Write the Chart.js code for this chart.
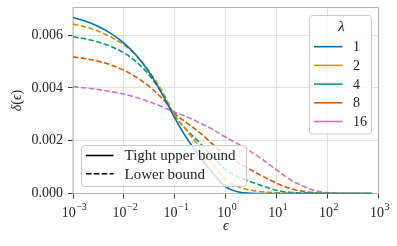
<!DOCTYPE html>
<html>
<head>
<meta charset="utf-8">
<script src="https://cdn.jsdelivr.net/npm/chart.js@4.4.0/dist/chart.umd.min.js"></script>
<style>
  html, body { margin: 0; padding: 0; background: #fff; }
  #wrap { width: 397px; height: 246px; }
</style>
</head>
<body>
<div id="wrap"><canvas id="chart" width="397" height="246"></canvas></div>
<script>
// epsilon grid (x) and delta(epsilon) for each lambda
const epsilon = [0.001, 0.00178, 0.00316, 0.00562, 0.01, 0.0178, 0.0316, 0.0562, 0.1, 0.178, 0.316, 0.562,
                 1, 1.78, 3.16, 5.62, 10, 17.8, 31.6, 56.2, 100, 316, 740];
const lambdas = ['1', '2', '4', '8', '16'];
const deltaL1  = [0.00667, 0.00653, 0.00633, 0.00606, 0.00570, 0.00522, 0.00458, 0.00378, 0.00286, 0.00205, 0.00138, 0.00076,
                  0.00025, 0.00006, 0.00001, 0, 0, 0, 0, 0, 0, 0, 0];
const deltaL2  = [0.00642, 0.00631, 0.00615, 0.00593, 0.00563, 0.00521, 0.00463, 0.00388, 0.00298, 0.00234, 0.00173, 0.00110,
                  0.00053, 0.00025, 0.00012, 0.00006, 0.00003, 0.00001, 0, 0, 0, 0, 0];
const deltaL4  = [0.00594, 0.00586, 0.00574, 0.00557, 0.00533, 0.00498, 0.00448, 0.00380, 0.00294, 0.00238, 0.00190, 0.00138,
                  0.00090, 0.00062, 0.00044, 0.00027, 0.00012, 0.00005, 0.00002, 0.00001, 0, 0, 0];
const deltaL8  = [0.00518, 0.00511, 0.00501, 0.00487, 0.00467, 0.00440, 0.00405, 0.00361, 0.00303, 0.00266, 0.00229, 0.00186,
                  0.00146, 0.00116, 0.00089, 0.00063, 0.00039, 0.00020, 0.00009, 0.00003, 0.00001, 0, 0];
const deltaL16 = [0.00405, 0.00400, 0.00394, 0.00386, 0.00377, 0.00364, 0.00348, 0.00329, 0.00308, 0.00289, 0.00267, 0.00242,
                  0.00213, 0.00187, 0.00158, 0.00125, 0.00089, 0.00055, 0.00029, 0.00011, 0.00003, 0, 0];
const xTicks = [-3, -2, -1, 0, 1, 2, 3];
const yTicks = [0, 0.002, 0.004, 0.006];

const colors = ['#0173B2', '#DE8F05', '#029E73', '#D55E00', '#CC78BC'];
const series = [deltaL1, deltaL2, deltaL4, deltaL8, deltaL16];
const SERIF = "'Liberation Serif', 'DejaVu Serif', serif";

const datasets = series.map((vals, i) => ({
  label: lambdas[i],
  data: epsilon.map((e, j) => ({x: e, y: vals[j]})),
  borderColor: colors[i],
  borderWidth: 1.6,
  borderDash: i === 0 ? [] : [5.5, 2.4],
  pointRadius: 0,
  cubicInterpolationMode: 'monotone',
  fill: false
}));

function roundRect(ctx, x, y, w, h, r) {
  ctx.beginPath();
  ctx.moveTo(x + r, y);
  ctx.arcTo(x + w, y, x + w, y + h, r);
  ctx.arcTo(x + w, y + h, x, y + h, r);
  ctx.arcTo(x, y + h, x, y, r);
  ctx.arcTo(x, y, x + w, y, r);
  ctx.closePath();
}

const decorations = {
  id: 'decorations',
  beforeDatasetsDraw(chart) {
    const {ctx, chartArea: a} = chart;
    ctx.save();
    ctx.strokeStyle = '#b8b8b8';
    ctx.lineWidth = 1;
    ctx.strokeRect(a.left, a.top, a.right - a.left, a.bottom - a.top);
    ctx.restore();
  },
  afterDraw(chart) {
    const {ctx, chartArea: a} = chart;
    const xs = chart.scales.x;
    ctx.save();
    ctx.fillStyle = '#262626';
    // x tick labels as 10^k
    xTicks.forEach(k => {
      const px = xs.getPixelForValue(Math.pow(10, k));
      const base = '10';
      const exp = k < 0 ? '\u2212' + Math.abs(k) : String(k);
      ctx.font = '14px ' + SERIF;
      const wb = ctx.measureText(base).width;
      ctx.font = '10px ' + SERIF;
      const we = ctx.measureText(exp).width;
      const x0 = px - (wb + we) / 2 + 1;
      ctx.textBaseline = 'alphabetic';
      ctx.textAlign = 'left';
      ctx.font = '14px ' + SERIF;
      ctx.fillText(base, x0, 217);
      ctx.font = '10px ' + SERIF;
      ctx.fillText(exp, x0 + wb + 0.5, 210);
    });
    // axis titles
    ctx.font = 'italic 14px ' + SERIF;
    ctx.textAlign = 'center';
    ctx.textBaseline = 'middle';
    ctx.fillText('\u03F5', (a.left + a.right) / 2, 226);
    ctx.save();
    ctx.translate(17, (a.top + a.bottom) / 2);
    ctx.rotate(-Math.PI / 2);
    const parts = [['\u03B4', true], ['(', false], ['\u03F5', true], [')', false]];
    let total = 0;
    parts.forEach(p => { ctx.font = (p[1] ? 'italic ' : '') + '14px ' + SERIF; p.push(ctx.measureText(p[0]).width); total += p[2]; });
    let cx = -total / 2;
    ctx.textAlign = 'left';
    parts.forEach(p => { ctx.font = (p[1] ? 'italic ' : '') + '14px ' + SERIF; ctx.fillText(p[0], cx, 0); cx += p[2]; });
    ctx.restore();

    // lambda legend (top right)
    roundRect(ctx, 309.5, 15.5, 62, 118.5, 3);
    ctx.fillStyle = 'rgba(255,255,255,0.8)';
    ctx.fill();
    ctx.strokeStyle = '#cccccc';
    ctx.lineWidth = 1;
    ctx.stroke();
    ctx.fillStyle = '#262626';
    ctx.font = 'italic 15px ' + SERIF;
    ctx.textAlign = 'center';
    ctx.textBaseline = 'middle';
    ctx.fillText('\u03BB', 341.5, 27);
    ctx.font = '14px ' + SERIF;
    ctx.textAlign = 'left';
    lambdas.forEach((lab, i) => {
      const y = 46.7 + i * 18.7;
      ctx.strokeStyle = colors[i];
      ctx.lineWidth = 1.6;
      ctx.setLineDash([]);
      ctx.beginPath();
      ctx.moveTo(314, y);
      ctx.lineTo(342.5, y);
      ctx.stroke();
      ctx.fillStyle = '#262626';
      ctx.fillText(lab, 353, y + 1);
    });

    // bound-type legend (bottom left)
    roundRect(ctx, 81.5, 145.5, 165, 41, 3);
    ctx.fillStyle = 'rgba(255,255,255,0.8)';
    ctx.fill();
    ctx.strokeStyle = '#cccccc';
    ctx.lineWidth = 1;
    ctx.stroke();
    const kinds = [['Tight upper bound', []], ['Lower bound', [5.5, 2.4]]];
    kinds.forEach((k, i) => {
      const y = 155.5 + i * 18.3;
      ctx.strokeStyle = '#000';
      ctx.lineWidth = 1.6;
      ctx.setLineDash(k[1]);
      ctx.beginPath();
      ctx.moveTo(86, y);
      ctx.lineTo(113.5, y);
      ctx.stroke();
      ctx.setLineDash([]);
      ctx.fillStyle = '#262626';
      ctx.font = '15px ' + SERIF;
      ctx.fillText(k[0], 124.5, y + 1);
    });
    ctx.restore();
  }
};

new Chart(document.getElementById('chart'), {
  type: 'line',
  data: {datasets: datasets},
  options: {
    responsive: false,
    animation: false,
    devicePixelRatio: 1,
    layout: {padding: {top: 7.5, right: 18.5, left: 0, bottom: 0}},
    plugins: {legend: {display: false}, tooltip: {enabled: false}},
    scales: {
      x: {
        type: 'logarithmic',
        min: 0.001,
        max: 1000,
        afterBuildTicks: s => { s.ticks = xTicks.map(k => ({value: Math.pow(10, k), major: true})); },
        afterFit: s => { s.height = 52.5; s.paddingLeft = s.paddingRight = s.paddingTop = s.paddingBottom = 0; },
        ticks: {display: false},
        border: {display: false},
        grid: {color: '#e2e2e2', lineWidth: 1, drawTicks: true, tickLength: 5, tickColor: '#444'}
      },
      y: {
        type: 'linear',
        min: 0,
        max: 0.00705,
        afterBuildTicks: s => { s.ticks = yTicks.map(v => ({value: v})); },
        afterFit: s => { s.width = 73; s.paddingLeft = s.paddingRight = s.paddingTop = s.paddingBottom = 0; },
        ticks: {
          padding: 5,
          color: '#262626',
          font: {family: SERIF, size: 14},
          callback: v => Number(v).toFixed(3)
        },
        border: {display: false},
        grid: {color: '#e2e2e2', lineWidth: 1, drawTicks: true, tickLength: 5, tickColor: '#444'}
      }
    }
  },
  plugins: [decorations]
});
</script>
</body>
</html>
